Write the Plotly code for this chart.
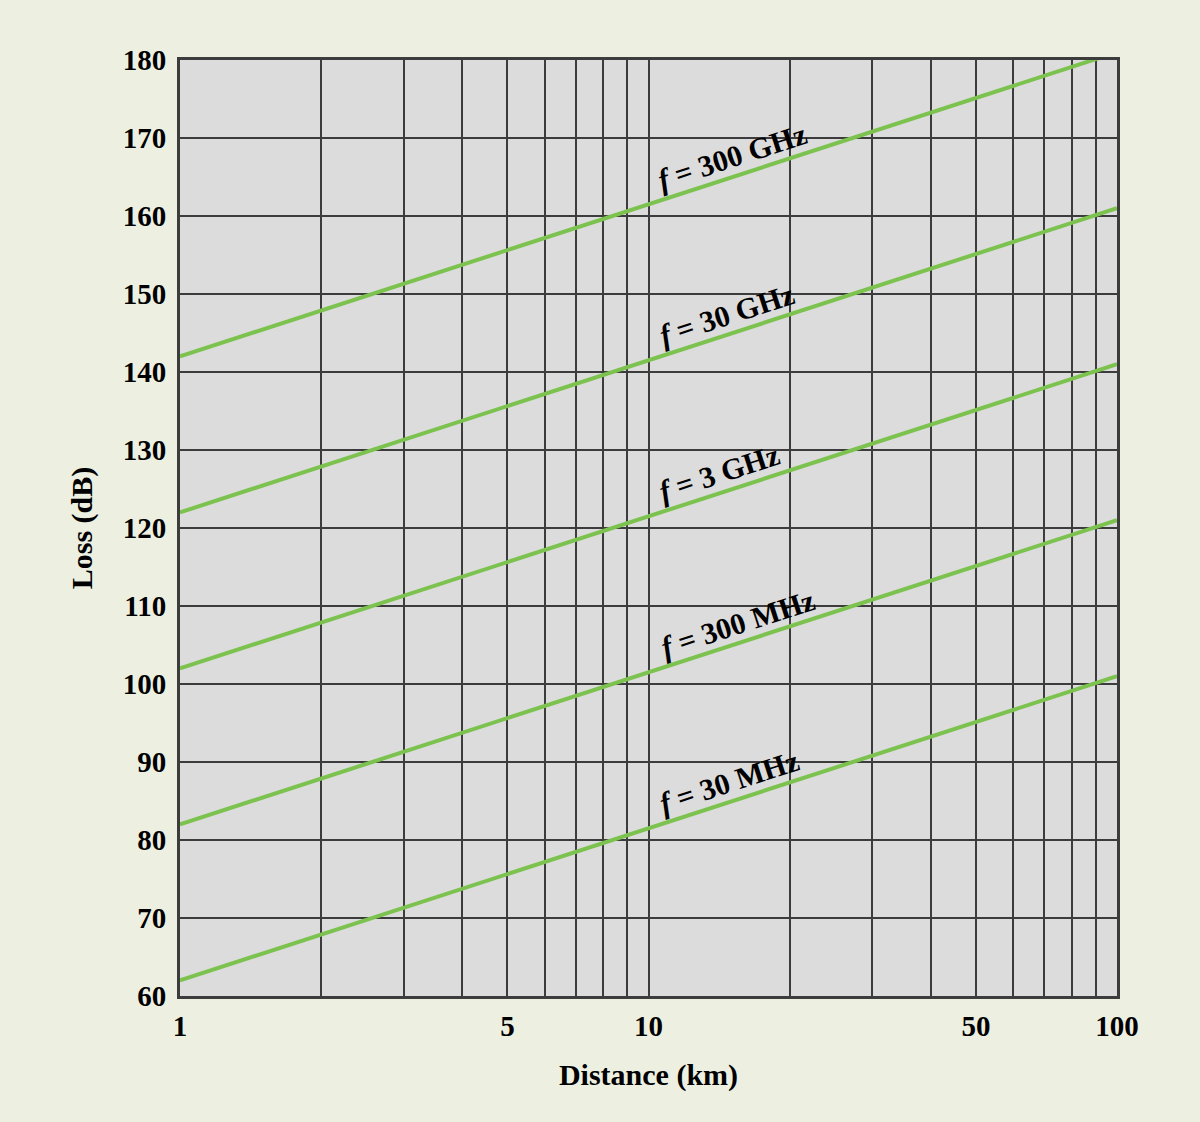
import plotly.graph_objects as go
import numpy as np

distance_km = [1, 100]
loss_30mhz = [62, 101]
loss_300mhz = [82, 121]
loss_3ghz = [102, 141]
loss_30ghz = [122, 161]
loss_300ghz = [142, 181]

series = [
    ("f = 30 MHz", loss_30mhz, 14.9),
    ("f = 300 MHz", loss_300mhz, 15.5),
    ("f = 3 GHz", loss_3ghz, 14.2),
    ("f = 30 GHz", loss_30ghz, 14.7),
    ("f = 300 GHz", loss_300ghz, 15.1),
]

x_grid = [1, 2, 3, 4, 5, 6, 7, 8, 9, 10, 20, 30, 40, 50, 60, 70, 80, 90, 100]
x_labels = {1: "1", 5: "5", 10: "10", 50: "50", 100: "100"}
y_ticks = list(range(60, 181, 10))

FONT = "Liberation Serif, Times New Roman, serif"
GREEN = "#7cc24e"
GRID = "#3c3c3c"
PAPER = "#edf0e0"

fig = go.Figure()
for name, vals, lx in series:
    fig.add_trace(go.Scatter(x=distance_km, y=vals, mode="lines",
                             line=dict(color=GREEN, width=4), name=name,
                             showlegend=False, cliponaxis=True))
    lx_log = np.log10(lx)
    ly = np.interp(lx_log, np.log10(distance_km), vals) + 2.6
    freq = name.split("= ")[1]
    fig.add_annotation(x=lx_log, y=ly, xref="x", yref="y",
                       text="<i>f</i> = " + freq, showarrow=False,
                       textangle=-18,
                       font=dict(family=FONT, size=30, color="black", weight="bold"))

fig.update_layout(
    width=1200, height=1122,
    margin=dict(l=180, r=83, t=60, b=126),
    paper_bgcolor=PAPER,
    plot_bgcolor="#dcdcdc",
    font=dict(family=FONT, size=28, color="black", weight="bold"),
)
fig.update_xaxes(
    type="log", range=[0, 2],
    tickvals=x_grid,
    ticktext=[x_labels.get(v, "") for v in x_grid],
    showgrid=True, gridcolor=GRID, gridwidth=2,
    showline=True, linecolor=GRID, linewidth=3, mirror=True,
    ticks="", ticklabelstandoff=2,
    tickfont=dict(family=FONT, size=29, weight="bold"),
    title=dict(text="Distance (km)", font=dict(family=FONT, size=30, weight="bold"), standoff=24),
    zeroline=False,
)
fig.update_yaxes(
    range=[60, 180], tickvals=y_ticks,
    showgrid=True, gridcolor=GRID, gridwidth=2,
    showline=True, linecolor=GRID, linewidth=3, mirror=True,
    ticks="", ticklabelstandoff=5,
    tickfont=dict(family=FONT, size=29, weight="bold"),
    title=dict(text="Loss (dB)", font=dict(family=FONT, size=30, weight="bold"), standoff=22),
    zeroline=False,
)

fig.write_html("out.html", config={"displayModeBar": False},
               post_script="document.body.style.margin='0';document.body.style.background='" + PAPER + "';")
